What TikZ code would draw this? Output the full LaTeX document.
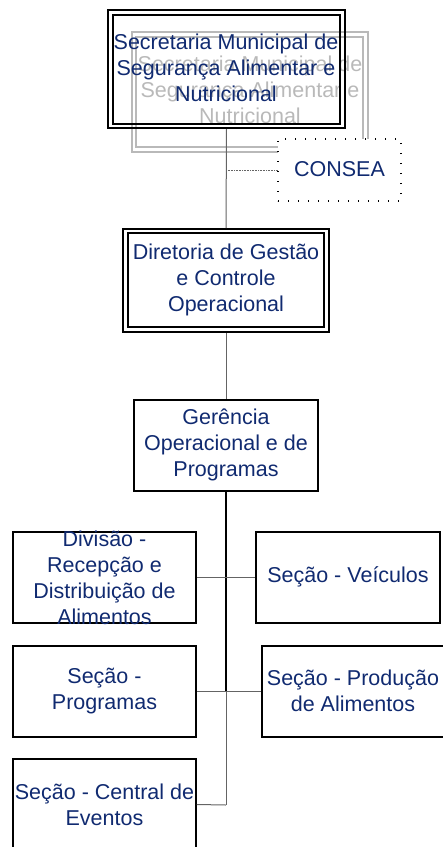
\documentclass[tikz,border=0pt]{standalone}
\usepackage{fontspec}
\setmainfont{Liberation Sans}
\definecolor{navy}{RGB}{16,42,112}
\definecolor{ghostgray}{RGB}{185,185,185}
\definecolor{linegray}{RGB}{100,100,100}
\begin{document}
\begin{tikzpicture}[x=1pt,y=-1pt,
  txt/.style={text=navy, font=\fontsize{21.5}{25.8}\selectfont, align=center, inner sep=0pt},
  ghosttxt/.style={text=ghostgray, font=\fontsize{21.5}{25.8}\selectfont, align=center, inner sep=0pt},
  box/.style={draw=black, line width=1.5pt, inner sep=0pt, minimum width=183pt, minimum height=91pt},
  outerbox/.style={draw=black, line width=2pt, inner sep=0pt},
  innerbox/.style={draw=black, line width=1.3pt, inner sep=0pt},
  ghostbox/.style={draw=ghostgray, line width=1.5pt, inner sep=0pt},
  dotbox/.style={draw=black, line width=1.3pt, fill=white, inner sep=0pt, dash pattern=on 1.3pt off 8.7pt},
  conn/.style={draw=linegray, line width=1pt},
  mainconn/.style={draw=black, line width=1.8pt},
  dotconn/.style={draw=linegray, line width=0.8pt, dash pattern=on 0.8pt off 0.8pt}]
\useasboundingbox (0,0) rectangle (443,847);
\clip (0,0) rectangle (443,847);

% ghost copy of top box
\node[ghostbox, minimum width=236pt, minimum height=120pt] (gho) at (250,92) {};
\node[ghostbox, minimum width=227pt, minimum height=110pt] (ghi) at (249.5,92) {};
\node[ghosttxt] (ght) at (250,90) {Secretaria Municipal de\\Segurança Alimentar e\\Nutricional};

% CONSEA
\node[dotbox, minimum width=123pt, minimum height=62pt] (consea) at (339.5,170) {};
\node[txt] (conseat) at (339.5,169) {CONSEA};

% top box
\node[outerbox, minimum width=237pt, minimum height=118pt] (sec) at (226.5,69) {};
\node[innerbox, minimum width=227pt, minimum height=109pt] (seci) at (226.5,69.5) {};
\node[txt] (sect) at (226,68) {Secretaria Municipal de\\Segurança Alimentar e\\Nutricional};

% diretoria
\node[outerbox, minimum width=206pt, minimum height=103pt] (dir) at (226,280.5) {};
\node[innerbox, minimum width=196pt, minimum height=94pt] (diri) at (226,280) {};
\node[txt] (dirt) at (226,280) {Diretoria de Gestão\\e Controle\\Operacional};

% gerencia
\node[box, minimum width=184pt] (ger) at (226,445.5) {};
\node[txt] (gert) at (226,445) {Gerência\\Operacional e de\\Programas};

% lower boxes
\node[box] (div) at (104.5,577.5) {};
\node[txt] (divt) at (104.5,578) {Divisão -\\Recepção e\\Distribuição de\\Alimentos};
\node[box, minimum width=184pt] (vei) at (348,577.5) {};
\node[txt] (veit) at (348,577) {Seção - Veículos};
\node[box] (prog) at (104.5,691.5) {};
\node[txt] (progt) at (104.5,691) {Seção -\\Programas};
\node[box, minimum width=184pt] (prod) at (354,691.5) {};
\node[txt] (prodt) at (353,691) {Seção - Produção\\de Alimentos};
\node[box] (cen) at (104.5,804.5) {};
\node[txt] (cent) at (104.5,805) {Seção - Central de\\Eventos};

% connectors
\coordinate (j1) at (226,170);
\coordinate (j2) at (226,692);
\coordinate (j3) at (226,805);
\draw[conn] (sec.south) -- (dir.north);
\draw[dotconn] (j1) -- (consea.west);
\draw[conn] (dir.south) -- (ger.north);
\draw[mainconn] (ger.south) -- (j2);
\draw[conn] (j2) -- (j3);
\draw[conn] (div.east) -- (vei.west);
\draw[conn] (prog.east) -- (prod.west);
\draw[conn] (cen.east) -- (j3);
\end{tikzpicture}
\end{document}
